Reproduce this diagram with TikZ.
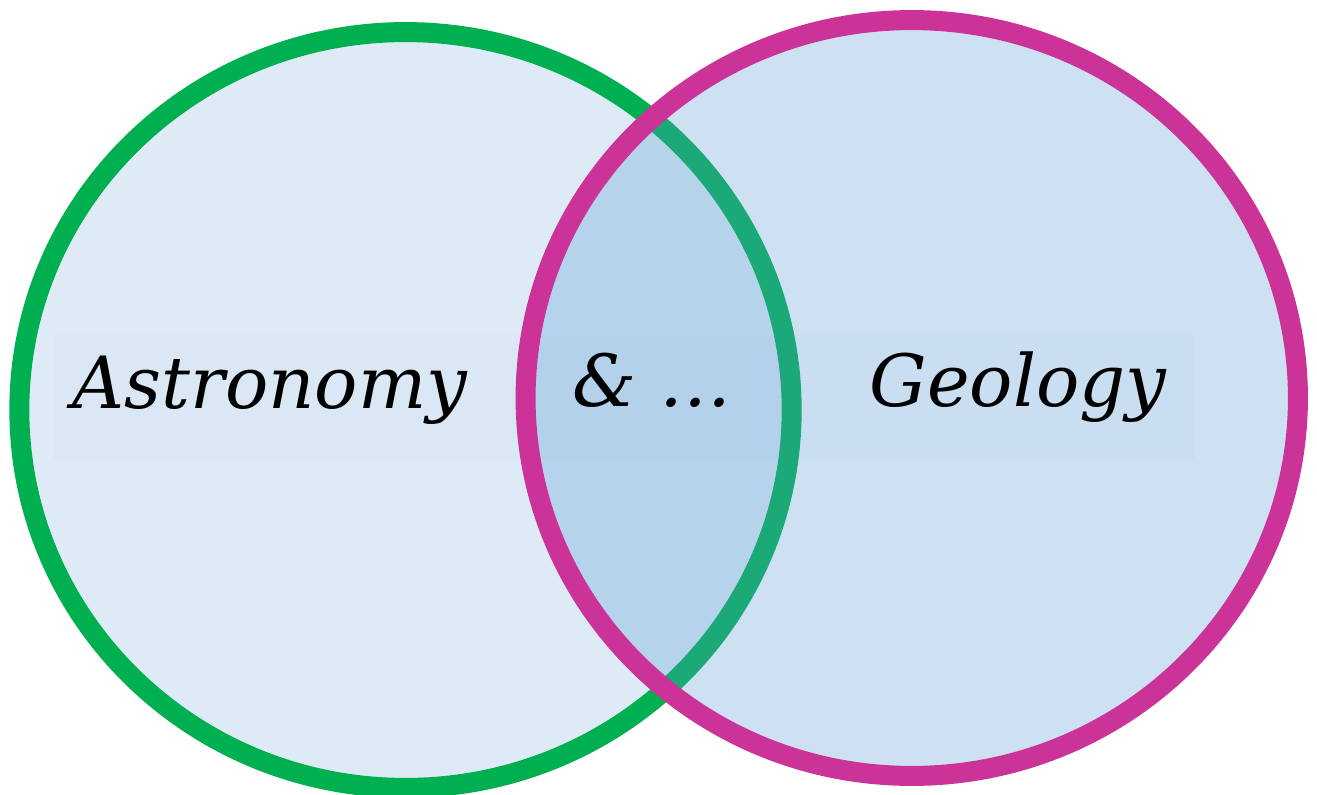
\documentclass[tikz,border=0pt]{standalone}
\usepackage{fontspec}
\usepackage{xcolor}
\usepackage{tikz}
\usetikzlibrary{positioning,shapes.geometric}
\setmainfont{DejaVu Serif}
\definecolor{Blue}{HTML}{5B9BD5}
\definecolor{Green}{HTML}{00B050}
\definecolor{Magenta}{HTML}{CC3399}

\begin{document}
\begin{tikzpicture}[x=0.02cm,y=-0.02cm,
    c/.style={ellipse,line width=0.4cm,minimum width=15.45cm,minimum height=15.12cm,inner sep=0pt},
    t/.style={font=\fontsize{41}{49}\selectfont\itshape,inner sep=0pt,anchor=base}]
    \useasboundingbox (0,0) rectangle (1317,794);
    \node[c,draw=Green,fill=Blue,fill opacity=0.2,draw opacity=1] (astro) at (405.5,410) {};
    \node[fill=Blue,fill opacity=0.035,draw=none,minimum width=22.8cm,minimum height=2.5cm,inner sep=0pt] (band) at (624,397.5) {};
    \node[c,draw=Magenta,fill=Blue,fill opacity=0.3,draw opacity=1] (geo) at (911.75,398) {};
    \node[t] (a) at (270,408) {Astronomy};
    \node[t] (b) at (652,406) {\& …};
    \node[t] (g) at (1018,406) {Geology};
  \end{tikzpicture}
\end{document}
